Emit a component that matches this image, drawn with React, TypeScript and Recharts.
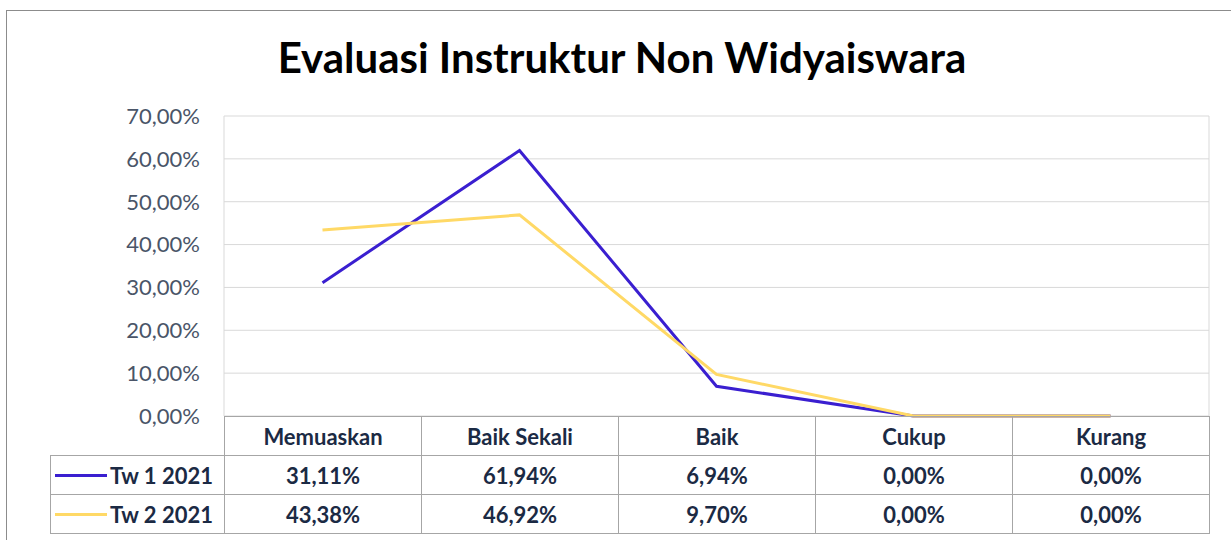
import { LineChart, Line, XAxis, YAxis, CartesianGrid } from "recharts";

const categories = ["Memuaskan", "Baik Sekali", "Baik", "Cukup", "Kurang"];
const tw1 = [31.11, 61.94, 6.94, 0, 0];
const tw2 = [43.38, 46.92, 9.7, 0, 0];
const yTicks = [0, 10, 20, 30, 40, 50, 60, 70];

const series = [
  { key: "tw1", name: "Tw 1 2021", color: "#3a1fd0", values: tw1 },
  { key: "tw2", name: "Tw 2 2021", color: "#ffd966", values: tw2 },
];

const data = categories.map((c, i) => ({ name: c, tw1: tw1[i], tw2: tw2[i] }));

const fmt = (v: number) => v.toFixed(2).replace(".", ",") + "%";

const FONT = "Lato, 'Open Sans', sans-serif";
const TEXT = "#1b2a44";
const LINE = "#a6a6a6";

// plot box
const PL = 224;
const PR = 1209;
const PT = 116;
const PB = 416;
const COL = (PR - PL) / categories.length;
const ROW = 39;

function Cell({ x, y, w, h, children, align = "center", pad = 0 }: any) {
  return (
    <div
      style={{
        position: "absolute",
        left: x,
        top: y,
        width: w + 1,
        height: h + 1,
        boxSizing: "border-box",
        border: `1px solid ${LINE}`,
        display: "flex",
        alignItems: "center",
        justifyContent: align === "center" ? "center" : "flex-start",
        paddingLeft: pad,
        fontFamily: FONT,
        fontWeight: 700,
        fontSize: 22,
        color: TEXT,
        whiteSpace: "nowrap",
      }}
    >
      {children}
    </div>
  );
}

export default function App() {
  return (
    <div
      style={{
        position: "absolute",
        left: 0,
        top: 0,
        width: 1231,
        height: 540,
        overflow: "hidden",
        background: "#fff",
      }}
    >
      <div
        style={{
          position: "absolute",
          left: 6,
          top: 10,
          width: 1260,
          height: 560,
          border: "1px solid #8c8c8c",
        }}
      />
      <div
        style={{
          position: "absolute",
          left: 0,
          width: 1244,
          top: 32,
          textAlign: "center",
          fontFamily: FONT,
          fontWeight: 700,
          fontSize: 42,
          color: "#000",
        }}
      >
        Evaluasi Instruktur Non Widyaiswara
      </div>
      <div style={{ position: "absolute", left: 0, top: 0 }}>
        <LineChart
          width={1231}
          height={540}
          data={data}
          margin={{ top: PT, left: PL - 90, right: 1231 - PR, bottom: 540 - PB }}
        >
          <CartesianGrid
            stroke="#d9d9d9"
            strokeWidth={1}
            verticalCoordinatesGenerator={() => [PL, PR]}
          />
          <XAxis
            dataKey="name"
            hide
            padding={{ left: COL / 2, right: COL / 2 }}
          />
          <YAxis
            width={90}
            domain={[0, 70]}
            ticks={yTicks}
            axisLine={false}
            tickLine={false}
            tickSize={0}
            tickMargin={24}
            tickFormatter={fmt}
            tick={{ fill: "#4a5568", fontSize: 22, fontFamily: FONT }}
          />
          {series.map((s) => (
            <Line
              key={s.key}
              dataKey={s.key}
              stroke={s.color}
              strokeWidth={3}
              dot={false}
              type="linear"
              isAnimationActive={false}
            />
          ))}
        </LineChart>
      </div>
      {categories.map((c, i) => (
        <Cell key={c} x={PL + i * COL} y={PB} w={COL} h={ROW}>
          {c}
        </Cell>
      ))}
      {series.map((s, r) => (
        <div key={s.key}>
          <Cell x={50} y={PB + ROW * (r + 1)} w={PL - 50} h={ROW} align="left" pad={4}>
            <span
              style={{
                display: "inline-block",
                width: 52,
                height: 3,
                background: s.color,
                marginRight: 3,
              }}
            />
            {s.name}
          </Cell>
          {s.values.map((v, i) => (
            <Cell key={i} x={PL + i * COL} y={PB + ROW * (r + 1)} w={COL} h={ROW}>
              {fmt(v)}
            </Cell>
          ))}
        </div>
      ))}
    </div>
  );
}
